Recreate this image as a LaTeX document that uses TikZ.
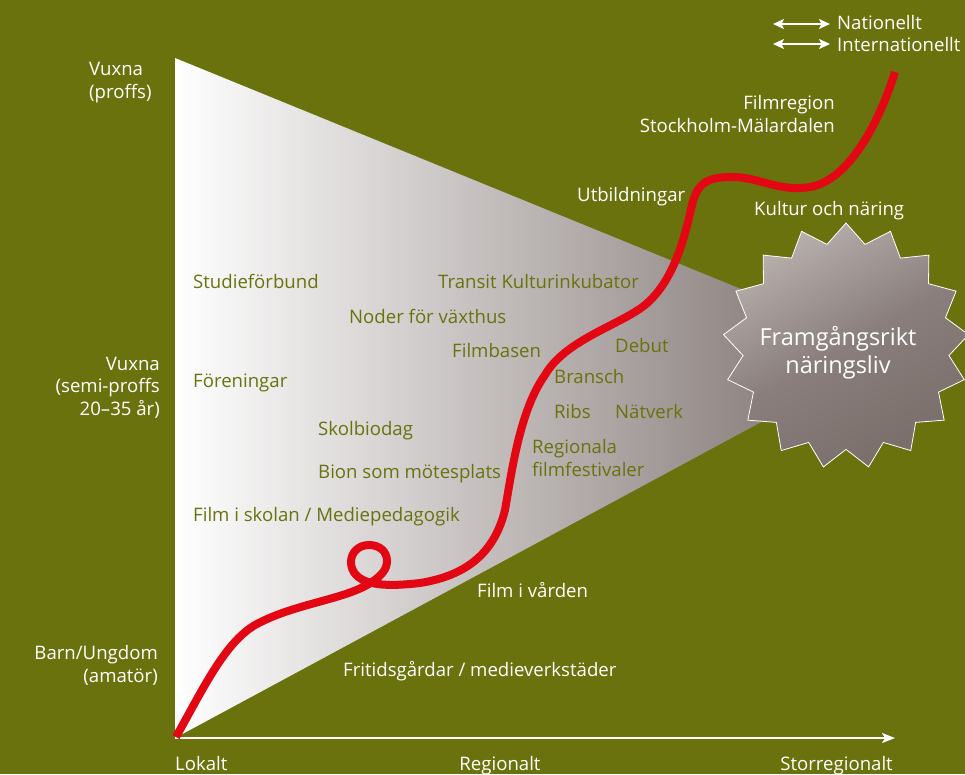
\documentclass[tikz,border=0pt]{standalone}
\usepackage{fontspec}
\setmainfont{Open Sans}
\usepackage{tikz}
\usetikzlibrary{shapes,arrows,arrows.meta,calc}

\definecolor{bggreen}{RGB}{105,114,13}
\definecolor{curvered}{RGB}{227,6,19}
\definecolor{funnelmid}{RGB}{224,219,218}
\definecolor{funneldark}{RGB}{118,106,103}
\definecolor{starlight}{RGB}{184,176,173}
\definecolor{stardark}{RGB}{122,110,107}

\tikzset{
  lab/.style={text=white, inner sep=0pt, font=\fontsize{18.6}{22.5}\selectfont},
  inlab/.style={lab, text=bggreen},
  goalstar/.style={star, star points=17, star point ratio=1.19, minimum size=246pt, inner sep=0pt,
    draw=white, line width=0.8pt, top color=starlight, bottom color=stardark,
    middle color=stardark!75!starlight, shading angle=30},
  axisline/.style={white, line width=1.5pt},
}

\begin{document}
\begin{tikzpicture}[>={Stealth[length=13pt,width=10pt,inset=3pt]}, x=1pt, y=-1pt]
  \useasboundingbox (0,0) rectangle (965,774);
  \fill[bggreen] (0,0) rectangle (965,774);

  % funnel
  \shade[left color=white, middle color=funnelmid, right color=funneldark] (175,58) -- (893,351) -- (175,738) -- cycle;

  % axis
  \coordinate (origin) at (175,738);
  \coordinate (axisend) at (895,738);
  \draw[axisline, ->] (origin) -- (axisend);
  \node[lab, anchor=base west] (lokalt) at (175,770) {Lokalt};
  \node[lab, anchor=base] (regionalt) at (500,770) {Regionalt};
  \node[lab, anchor=base east] (storreg) at (893,770) {Storregionalt};

  % levels (base = last line)
  \node[lab, anchor=base west, align=left] (proffs) at (89,98) {Vuxna\\(proffs)};
  \node[lab, anchor=base east, align=right] (semi) at (160,415) {Vuxna\\(semi-proffs\\20--35 år)};
  \node[lab, anchor=base east, align=right] (amator) at (158,682) {Barn/Ungdom\\(amatör)};

  % legend
  \coordinate (natL) at (773,24);
  \coordinate (natR) at (830,24);
  \coordinate (intL) at (773,44);
  \coordinate (intR) at (830,44);
  \draw[axisline, <->, >={Stealth[length=11pt,width=10pt,inset=2.5pt]}] (natL) -- (natR);
  \draw[axisline, <->, >={Stealth[length=11pt,width=10pt,inset=2.5pt]}] (intL) -- (intR);
  \node[lab, anchor=base west] (nat) at (837,29) {Nationellt};
  \node[lab, anchor=base west] (inter) at (837,51) {Internationellt};

  % inside the funnel
  \node[inlab, anchor=base west] (studie) at (193,288) {Studieförbund};
  \node[inlab, anchor=base west] (transit) at (438,288) {Transit Kulturinkubator};
  \node[inlab, anchor=base west] (noder) at (349,323) {Noder för växthus};
  \node[inlab, anchor=base west] (filmbasen) at (452,357) {Filmbasen};
  \node[inlab, anchor=base west] (forening) at (193,387) {Föreningar};
  \node[inlab, anchor=base west] (skolbio) at (318,435) {Skolbiodag};
  \node[inlab, anchor=base west] (bion) at (318,478) {Bion som mötesplats};
  \node[inlab, anchor=base west] (skolan) at (193,521) {Film i skolan / Mediepedagogik};
  \node[inlab, anchor=base west] (debut) at (615,352) {Debut};
  \node[inlab, anchor=base west] (bransch) at (554,383) {Bransch};
  \node[inlab, anchor=base west] (ribs) at (554,418) {Ribs};
  \node[inlab, anchor=base west] (natverk) at (615,418) {Nätverk};
  \node[inlab, anchor=base west, align=left] (festival) at (532,476) {Regionala\\filmfestivaler};

  % outside the funnel
  \node[lab, anchor=base west] (varden) at (477,597) {Film i vården};
  \node[lab, anchor=base west] (fritid) at (343,676) {Fritidsgårdar / medieverkstäder};
  \node[lab, anchor=base west] (utbild) at (577,201) {Utbildningar};
  \node[lab, anchor=base east, align=right] (filmreg) at (835,132) {Filmregion\\Stockholm-Mälardalen};
  \node[lab, anchor=base west] (kultur) at (754,215) {Kultur och näring};

  % goal
  \node[goalstar] (goal) at (846,346) {};
  \node[lab, font=\fontsize{23.5}{28}\selectfont, align=center, anchor=base] (goaltext) at (838,373) {Framgångsrikt\\näringsliv};

  % path
  \draw[curvered, line width=8pt] (176,737) .. controls (205,685) and (225,643) .. (255,625)
    .. controls (295,603) and (345,600) .. (372,582)
    .. controls (382,575) and (387,569) .. (387,561)
    .. controls (387,551) and (379,545) .. (369,545)
    .. controls (358,545) and (351,553) .. (351,562)
    .. controls (351,572) and (358,580) .. (372,583)
    .. controls (385,586) and (402,585) .. (420,583)
    .. controls (470,575) and (495,550) .. (505,510)
    .. controls (512,470) and (520,410) .. (545,375)
    .. controls (565,340) and (620,325) .. (645,305)
    .. controls (675,280) and (685,235) .. (692,205)
    .. controls (698,180) and (710,177) .. (735,177)
    .. controls (760,178) and (780,192) .. (810,187)
    .. controls (850,180) and (880,120) .. (895,72);
\end{tikzpicture}
\end{document}
